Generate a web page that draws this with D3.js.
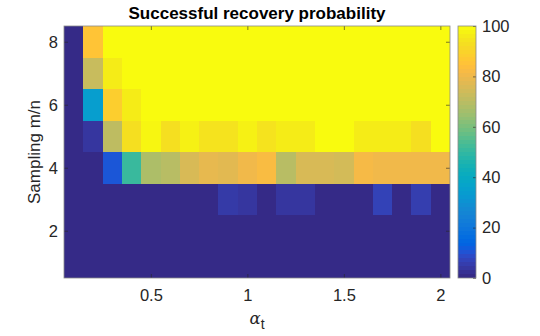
<!DOCTYPE html>
<html><head><meta charset="utf-8">
<script src="https://cdn.jsdelivr.net/npm/d3@7/dist/d3.min.js"></script>
<style>
html,body{margin:0;padding:0;background:#fff;}
svg{display:block;}
text{font-family:"Liberation Sans",Arial,Helvetica,sans-serif;fill:#262626;}
</style></head>
<body><svg id="c" width="540" height="336"></svg>
<script>
// ---- data ----
const alphas = [0.1,0.2,0.3,0.4,0.5,0.6,0.7,0.8,0.9,1.0,1.1,1.2,1.3,1.4,1.5,1.6,1.7,1.8,1.9,2.0];
const samplings = [1,2,3,4,5,6,7,8];
const prob_m1 = [0,0,0,0,0,0,0,0,0,0,0,0,0,0,0,0,0,0,0,0];
const prob_m2 = [0,0,0,0,0,0,0,0,0,0,0,0,0,0,0,0,0,0,0,0];
const prob_m3 = [0,0,0,0,0,0,0,0,4,3,0,3,3,0,0,0,6,0,5,0];
const prob_m4 = [0,0,10,51,68,70,76,79,78,81,83,70,76,76,75,82,81,81,81,81];
const prob_m5 = [0,3,71,94,99,94,98,95,95,98,95,97,97,100,100,97,97,97,94,100];
const prob_m6 = [0,34,89,97,100,100,100,100,100,100,100,100,100,100,100,100,100,100,100,100];
const prob_m7 = [0,73,97,100,100,100,100,100,100,100,100,100,100,100,100,100,100,100,100,100];
const prob_m8 = [0,86,100,100,100,100,100,100,100,100,100,100,100,100,100,100,100,100,100,100];
const probRows = [prob_m1,prob_m2,prob_m3,prob_m4,prob_m5,prob_m6,prob_m7,prob_m8];
const xTicks = [0.5,1,1.5,2];
const xTickLabels = ["0.5","1","1.5","2"];
const yTicks = [2,4,6,8];
const yTickLabels = ["2","4","6","8"];
const cTicks = [0,20,40,60,80,100];
const cTickLabels = ["0","20","40","60","80","100"];
const titleText = "Successful recovery probability";
const yLabelText = "Sampling m/n";

// parula colormap (64 entries)
const parula = [[0.2081,0.1663,0.5292],[0.2116,0.1898,0.5777],[0.2123,0.2138,0.6270],[0.2081,0.2386,0.6771],[0.1959,0.2645,0.7279],[0.1707,0.2919,0.7792],[0.1253,0.3242,0.8303],[0.0591,0.3598,0.8683],[0.0117,0.3875,0.8820],[0.0060,0.4086,0.8828],[0.0165,0.4266,0.8786],[0.0329,0.4430,0.8720],[0.0498,0.4586,0.8641],[0.0629,0.4737,0.8554],[0.0723,0.4887,0.8467],[0.0779,0.5040,0.8384],[0.0793,0.5200,0.8312],[0.0749,0.5375,0.8263],[0.0641,0.5570,0.8240],[0.0488,0.5772,0.8228],[0.0343,0.5966,0.8199],[0.0265,0.6137,0.8135],[0.0239,0.6287,0.8038],[0.0231,0.6418,0.7913],[0.0228,0.6535,0.7768],[0.0267,0.6642,0.7607],[0.0384,0.6743,0.7436],[0.0590,0.6838,0.7254],[0.0843,0.6928,0.7062],[0.1133,0.7015,0.6859],[0.1453,0.7098,0.6646],[0.1801,0.7177,0.6424],[0.2178,0.7250,0.6193],[0.2586,0.7317,0.5954],[0.3022,0.7376,0.5712],[0.3482,0.7424,0.5473],[0.3953,0.7459,0.5244],[0.4420,0.7481,0.5033],[0.4871,0.7491,0.4840],[0.5300,0.7491,0.4661],[0.5709,0.7485,0.4494],[0.6099,0.7473,0.4337],[0.6473,0.7456,0.4188],[0.6834,0.7435,0.4044],[0.7184,0.7411,0.3905],[0.7525,0.7384,0.3768],[0.7858,0.7356,0.3633],[0.8185,0.7327,0.3498],[0.8507,0.7299,0.3360],[0.8824,0.7274,0.3217],[0.9139,0.7258,0.3063],[0.9450,0.7261,0.2886],[0.9739,0.7314,0.2666],[0.9938,0.7455,0.2403],[0.9990,0.7653,0.2164],[0.9955,0.7861,0.1967],[0.9880,0.8066,0.1794],[0.9789,0.8271,0.1633],[0.9697,0.8481,0.1475],[0.9626,0.8705,0.1309],[0.9589,0.8949,0.1132],[0.9598,0.9218,0.0948],[0.9661,0.9514,0.0755],[0.9763,0.9831,0.0538]];
const parulaCss = parula.map(c => d3.rgb(c[0]*255,c[1]*255,c[2]*255).formatHex());
const color = d3.scaleLinear()
  .domain(d3.range(64).map(i => i*100/63))
  .range(parulaCss)
  .interpolate(d3.interpolateRgb)
  .clamp(true);

// ---- layout ----
const svg = d3.select("#c");
const L=64, R=450, T=26, B=278;
const x = d3.scaleLinear().domain([0.05,2.05]).range([L,R]);
const y = d3.scaleLinear().domain([0.5,8.5]).range([B,T]);

const cells = [];
samplings.forEach((m,ri) => alphas.forEach((a,ci) => cells.push({a, m, v: probRows[ri][ci]})));

svg.append("g").selectAll("rect").data(cells).join("rect")
  .attr("x", d => x(d.a-0.05))
  .attr("y", d => y(d.m+0.5))
  .attr("width", d => x(d.a+0.05)-x(d.a-0.05)+0.3)
  .attr("height", d => y(d.m-0.5)-y(d.m+0.5)+0.3)
  .attr("fill", d => color(d.v))
  .attr("shape-rendering","crispEdges");

const axisColor = "#262626";
const fmtX = d => xTickLabels[xTicks.indexOf(d)];
const fmtY = d => yTickLabels[yTicks.indexOf(d)];
function styleAxis(g, showText){
  g.select(".domain").remove();
  g.selectAll(".tick line").attr("stroke",axisColor).attr("stroke-width",0.6);
  g.selectAll(".tick text").attr("fill",axisColor).style("font-size","16.5px")
    .style("font-family","'Liberation Sans',Arial,sans-serif");
  if(!showText) g.selectAll(".tick text").remove();
}
svg.append("g").attr("transform",`translate(0,${B})`)
  .call(d3.axisBottom(x).tickValues(xTicks).tickFormat(fmtX).tickSizeInner(-4).tickSizeOuter(0).tickPadding(11))
  .call(g=>styleAxis(g,true));
svg.append("g").attr("transform",`translate(0,${T})`)
  .call(d3.axisTop(x).tickValues(xTicks).tickSizeInner(-4).tickSizeOuter(0))
  .call(g=>styleAxis(g,false));
svg.append("g").attr("transform",`translate(${L},0)`)
  .call(d3.axisLeft(y).tickValues(yTicks).tickFormat(fmtY).tickSizeInner(-4).tickSizeOuter(0).tickPadding(6))
  .call(g=>styleAxis(g,true));
svg.append("g").attr("transform",`translate(${R},0)`)
  .call(d3.axisRight(y).tickValues(yTicks).tickSizeInner(-4).tickSizeOuter(0))
  .call(g=>styleAxis(g,false));

svg.append("rect").attr("x",L).attr("y",T).attr("width",R-L).attr("height",B-T)
  .attr("fill","none").attr("stroke","#8a8a8a").attr("stroke-width",0.8);

// title
svg.append("text").attr("x",(L+R)/2).attr("y",19).attr("text-anchor","middle")
  .style("font-size","17px").style("font-weight","bold").style("fill","#000")
  .text(titleText);

// y label
svg.append("text").attr("transform",`translate(40,${(T+B)/2}) rotate(-90)`)
  .attr("text-anchor","middle").style("font-size","17px").text(yLabelText);

// x label alpha_t
const xl = svg.append("text").attr("x",(L+R)/2).attr("y",324).attr("text-anchor","middle").style("font-size","16.5px");
xl.append("tspan").style("font-family","'DejaVu Serif','Liberation Serif',serif").style("font-style","italic").text("\u03B1");
xl.append("tspan").attr("dy",5).style("font-size","14px").text("t");

// colorbar
const CL=458, CR=476;
const cy = d3.scaleLinear().domain([0,100]).range([B,T]);
const defs = svg.append("defs");
const grad = defs.append("linearGradient").attr("id","parula").attr("x1",0).attr("y1",1).attr("x2",0).attr("y2",0);
parulaCss.forEach((c,i)=>{
  grad.append("stop").attr("offset",(i/64)).attr("stop-color",c);
  grad.append("stop").attr("offset",((i+1)/64)).attr("stop-color",c);
});
svg.append("rect").attr("x",CL).attr("y",T).attr("width",CR-CL).attr("height",B-T).attr("fill","url(#parula)");
svg.append("g").attr("transform",`translate(${CR},0)`)
  .call(d3.axisRight(cy).tickValues(cTicks).tickFormat(d=>cTickLabels[cTicks.indexOf(d)]).tickSizeInner(-3).tickSizeOuter(0).tickPadding(6))
  .call(g=>styleAxis(g,true));
svg.append("rect").attr("x",CL).attr("y",T).attr("width",CR-CL).attr("height",B-T)
  .attr("fill","none").attr("stroke","#8a8a8a").attr("stroke-width",0.8);
</script></body></html>
